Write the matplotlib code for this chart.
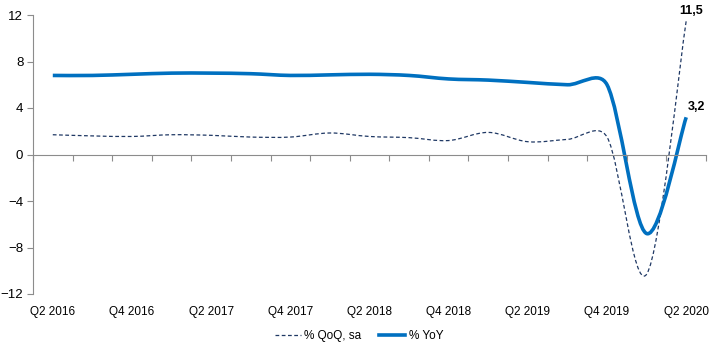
"""Quarterly growth: % QoQ (sa) vs % YoY, Q2 2016 - Q2 2020, Excel-style smoothed lines."""

import numpy as np
import matplotlib
matplotlib.use("Agg")
import matplotlib.pyplot as plt
from matplotlib.path import Path
from matplotlib.patches import PathPatch
from matplotlib.lines import Line2D

quarters = ["Q2 2016", "Q3 2016", "Q4 2016", "Q1 2017", "Q2 2017", "Q3 2017",
            "Q4 2017", "Q1 2018", "Q2 2018", "Q3 2018", "Q4 2018", "Q1 2019",
            "Q2 2019", "Q3 2019", "Q4 2019", "Q1 2020", "Q2 2020"]
qoq = [1.7, 1.6, 1.55, 1.7, 1.65, 1.5, 1.5, 1.85, 1.55, 1.45, 1.2, 1.9,
       1.1, 1.3, 1.5, -10.3, 11.5]
yoy = [6.8, 6.8, 6.9, 7.0, 7.0, 6.95, 6.8, 6.85, 6.9, 6.8, 6.5, 6.4,
       6.2, 6.0, 6.0, -6.8, 3.2]
yticks = [-12, -8, -4, 0, 4, 8, 12]

C_YOY = "#0070C0"
C_QOQ = "#1F3864"
AXIS = "#8C8C8C"

plt.rcParams["font.family"] = ["Liberation Sans", "DejaVu Sans"]


def smooth_path(ax, xs, ys, lim_frac=0.45):
    """Catmull-Rom style curve (Excel 'smoothed line'), built in display space
    with control arms clamped to a fraction of the segment, then mapped back."""
    pts = ax.transData.transform(np.column_stack([xs, ys]))
    n = len(pts)
    arm = [(pts[min(i + 1, n - 1)] - pts[max(i - 1, 0)]) / 6 for i in range(n)]

    def clamp(v, lim):
        m = np.hypot(*v)
        return v if m <= lim else v * lim / m

    verts = [pts[0]]
    codes = [Path.MOVETO]
    for i in range(n - 1):
        seg = np.hypot(*(pts[i + 1] - pts[i])) * lim_frac
        c1 = pts[i] + clamp(arm[i], seg)
        c2 = pts[i + 1] - clamp(arm[i + 1], seg)
        verts += [c1, c2, pts[i + 1]]
        codes += [Path.CURVE4] * 3
    verts = ax.transData.inverted().transform(np.array(verts))
    return Path(verts, codes)


fig = plt.figure(figsize=(7.18, 3.51), dpi=100)
ax = fig.add_axes([33 / 718, (351 - 294) / 351, (706 - 33) / 718, (294 - 15) / 351])
x = np.arange(len(quarters))
ax.set_xlim(-0.5, len(quarters) - 0.5)
ax.set_ylim(-12, 12)

for vals, col, lw, ls in ((qoq, C_QOQ, 0.9, (0, (3, 2))), (yoy, C_YOY, 2.6, "-")):
    p = smooth_path(ax, x, vals)
    ax.add_patch(PathPatch(p, facecolor="none", edgecolor=col, lw=lw,
                           linestyle=ls, capstyle="butt", joinstyle="round"))

# axes styling
for s in ("top", "right"):
    ax.spines[s].set_visible(False)
ax.spines["left"].set_color(AXIS)
ax.spines["bottom"].set_position(("data", 0))
ax.spines["bottom"].set_color(AXIS)
ax.set_xticks(np.arange(-0.5, len(quarters) + 0.5, 1.0))
ax.set_xticklabels([])
ax.tick_params(axis="x", direction="out", length=4, color=AXIS)
ax.set_yticks(yticks)
ax.tick_params(axis="y", direction="out", length=4, color=AXIS, labelsize=9.5, pad=3)

sec = ax.secondary_xaxis("bottom")
sec.set_xticks(x[::2], quarters[::2])
sec.tick_params(length=0, labelsize=8.5, pad=9)
sec.spines["bottom"].set_visible(False)

ax.annotate("11,5", (x[-1], qoq[-1]), xytext=(-5, 3), textcoords="offset points",
            ha="left", va="bottom", fontsize=9, fontweight="bold")
ax.annotate("3,2", (x[-1], yoy[-1]), xytext=(1, 3), textcoords="offset points",
            ha="left", va="bottom", fontsize=9, fontweight="bold")

handles = [Line2D([], [], color=C_QOQ, lw=0.9, ls=(0, (3, 2))),
           Line2D([], [], color=C_YOY, lw=2.6)]
fig.legend(handles, ["% QoQ, sa", "% YoY"], loc="center", bbox_to_anchor=(0.5, 1 - 336 / 351),
           ncol=2, frameon=False, fontsize=8.5, handlelength=2.2, handletextpad=0.3,
           columnspacing=1.5)

fig.savefig("out.png", dpi=100)
